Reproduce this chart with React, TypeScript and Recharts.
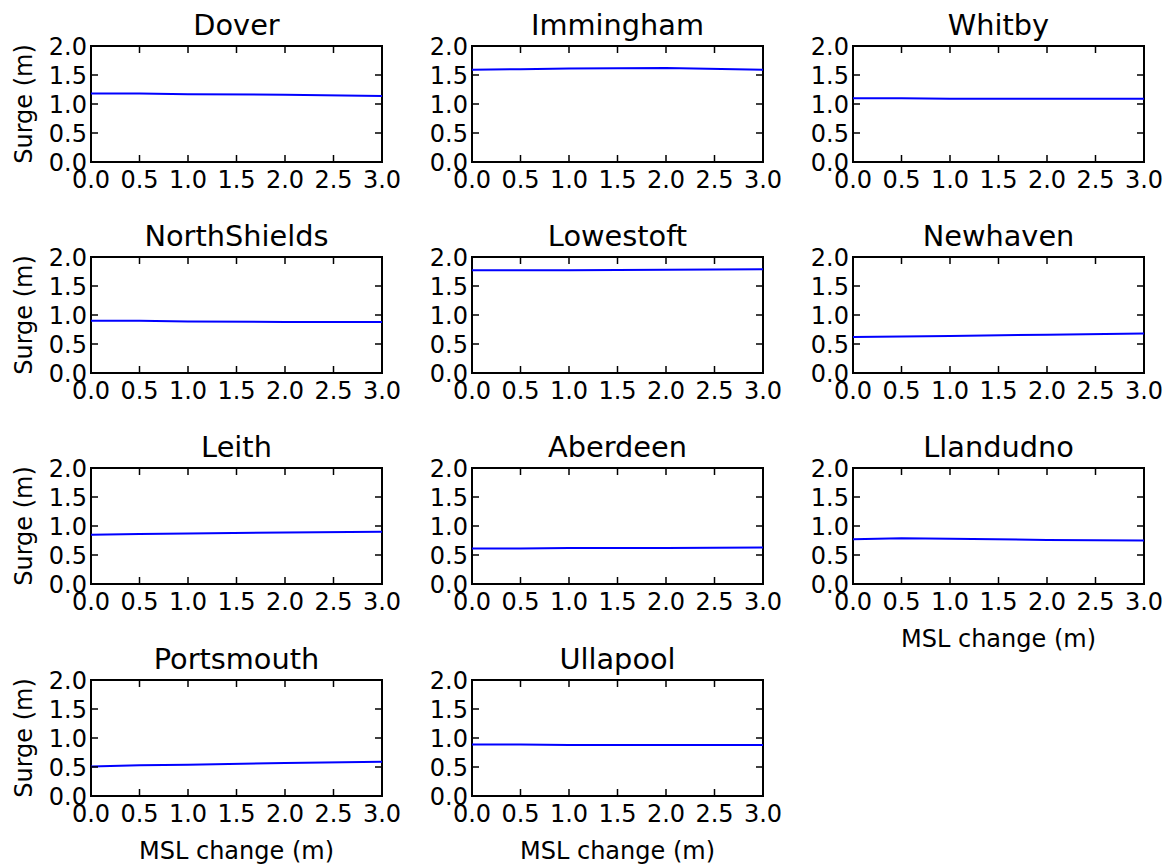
import React from 'react';
import { LineChart, Line, XAxis, YAxis, ReferenceArea } from 'recharts';

// MSL change (m) at which each run was made
const mslChange = [0, 0.5, 1.0, 2.0, 3.0];

const stations = [
  'Dover', 'Immingham', 'Whitby',
  'NorthShields', 'Lowestoft', 'Newhaven',
  'Leith', 'Aberdeen', 'Llandudno',
  'Portsmouth', 'Ullapool',
];

// peak surge (m) per station
const doverSurge = [1.18, 1.18, 1.17, 1.16, 1.14];
const immighamSurge = [1.59, 1.60, 1.61, 1.62, 1.59];
const whitbySurge = [1.10, 1.10, 1.09, 1.09, 1.09];
const northShieldsSurge = [0.90, 0.90, 0.89, 0.88, 0.88];
const lowestoftSurge = [1.77, 1.77, 1.77, 1.78, 1.79];
const newhavenSurge = [0.62, 0.63, 0.64, 0.66, 0.68];
const leithSurge = [0.85, 0.86, 0.87, 0.89, 0.90];
const aberdeenSurge = [0.61, 0.61, 0.62, 0.62, 0.63];
const llandudnoSurge = [0.77, 0.79, 0.78, 0.76, 0.75];
const portsmouthSurge = [0.51, 0.53, 0.54, 0.57, 0.59];
const ullapoolSurge = [0.89, 0.89, 0.88, 0.88, 0.88];

const surgeByStation = [
  doverSurge, immighamSurge, whitbySurge,
  northShieldsSurge, lowestoftSurge, newhavenSurge,
  leithSurge, aberdeenSurge, llandudnoSurge,
  portsmouthSurge, ullapoolSurge,
];

const xTicks = [0, 0.5, 1.0, 1.5, 2.0, 2.5, 3.0];
const yTicks = [0, 0.5, 1.0, 1.5, 2.0];

// layout
const COL_X = [91, 472, 853];
const ROW_Y = [46, 257, 468, 680];
const PLOT_L = 90;
const PLOT_T = 46;
const PLOT_W = 291;
const PLOT_H = 116;
const CHART_W = 409;
const CHART_H = 234;
const TICK_LEN = 7;
const FONT = '"DejaVu Sans", Verdana, sans-serif';

const YTick = (props: any) => {
  const { x, y, payload } = props;
  return (
    <g>
      <line x1={PLOT_L} x2={PLOT_L + TICK_LEN} y1={y} y2={y} stroke="#000" strokeWidth={1.5} />
      <line x1={PLOT_L + PLOT_W - TICK_LEN} x2={PLOT_L + PLOT_W} y1={y} y2={y} stroke="#000" strokeWidth={1.5} />
      <text x={x} y={y} dy="0.355em" textAnchor="end" fontSize={24} fill="#000">
        {Number(payload.value).toFixed(1)}
      </text>
    </g>
  );
};

const XTick = (props: any) => {
  const { x, payload } = props;
  const bottom = PLOT_T + PLOT_H;
  return (
    <g>
      <line x1={x} x2={x} y1={bottom} y2={bottom - TICK_LEN} stroke="#000" strokeWidth={1.5} />
      <line x1={x} x2={x} y1={PLOT_T} y2={PLOT_T + TICK_LEN} stroke="#000" strokeWidth={1.5} />
      <text x={x} y={bottom + 26} textAnchor="middle" fontSize={24} fill="#000">
        {Number(payload.value).toFixed(1)}
      </text>
    </g>
  );
};

const Panel: React.FC<{ idx: number }> = ({ idx }) => {
  const row = Math.floor(idx / 3);
  const col = idx % 3;
  const values = surgeByStation[idx];
  const data = mslChange.map((m, i) => ({ msl: m, surge: values[i] }));
  const showX = idx >= 8;
  const showY = col === 0;

  return (
    <div style={{ position: 'absolute', left: COL_X[col] - PLOT_L, top: ROW_Y[row] - PLOT_T }}>
      <LineChart width={CHART_W} height={CHART_H} data={data} margin={{ top: PLOT_T, right: CHART_W - PLOT_L - PLOT_W, bottom: 0, left: 0 }}>
        <XAxis
          dataKey="msl"
          type="number"
          domain={[0, 3]}
          ticks={xTicks}
          interval={0}
          height={CHART_H - PLOT_T - PLOT_H}
          tickSize={0}
          axisLine={false}
          tick={(p: any) => <XTick {...p} />}
          label={showX ? { value: 'MSL change (m)', position: 'insideBottom', offset: 9, fontSize: 24, fill: '#000' } : undefined}
        />
        <YAxis
          type="number"
          domain={[0, 2]}
          ticks={yTicks}
          interval={0}
          width={PLOT_L}
          tickSize={0}
          tickMargin={4}
          axisLine={false}
          tick={(p: any) => <YTick {...p} />}
          label={showY ? { value: 'Surge (m)', angle: -90, position: 'insideLeft', offset: 22, fontSize: 24, fill: '#000', style: { textAnchor: 'middle' } } : undefined}
        />
        <ReferenceArea
          x1={0}
          x2={3}
          y1={0}
          y2={2}
          fill="none"
          fillOpacity={0}
          stroke="#000"
          strokeWidth={2}
          label={{ value: stations[idx], position: 'top', offset: 11, fontSize: 28.8, fill: '#000' }}
        />
        <Line type="linear" dataKey="surge" stroke="#0000ff" strokeWidth={2} dot={false} isAnimationActive={false} />
      </LineChart>
    </div>
  );
};

export default function App() {
  return (
    <div style={{ position: 'absolute', left: 0, top: 0, width: 1173, height: 864, background: '#fff', fontFamily: FONT }}>
      {stations.map((s, i) => (
        <Panel key={s} idx={i} />
      ))}
    </div>
  );
}
